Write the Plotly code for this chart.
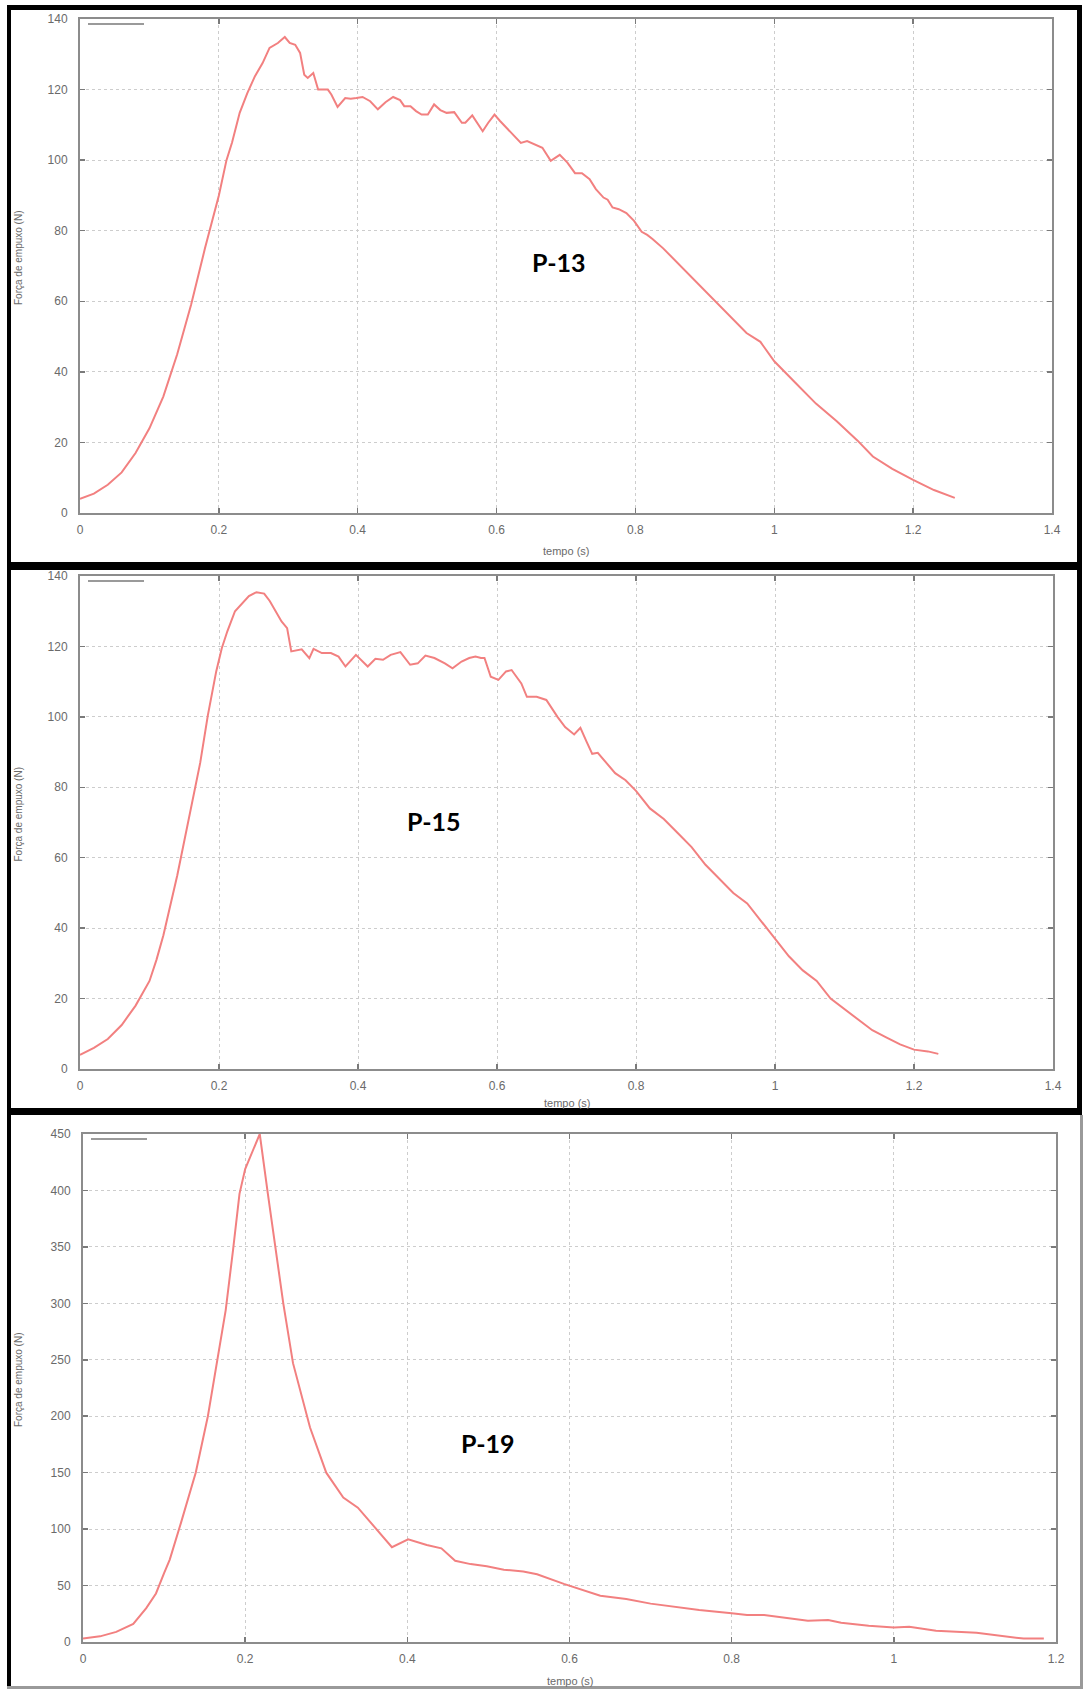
import plotly.graph_objects as go

W, H = 1083, 1689

# ---------------- data ----------------
t_p13 = [0, 0.02, 0.04, 0.06, 0.08, 0.1, 0.12, 0.14, 0.16, 0.18, 0.2, 0.211, 0.219, 0.230, 0.241,
         0.252, 0.263, 0.273, 0.285, 0.295, 0.302, 0.310, 0.317, 0.323, 0.328, 0.336, 0.343, 0.357,
         0.362, 0.371, 0.382, 0.390, 0.398, 0.407, 0.418, 0.429, 0.440, 0.451, 0.461, 0.467, 0.476,
         0.484, 0.492, 0.501, 0.510, 0.519, 0.528, 0.539, 0.550, 0.555, 0.565, 0.572, 0.580, 0.588,
         0.597, 0.605, 0.616, 0.627, 0.635, 0.644, 0.655, 0.666, 0.678, 0.691, 0.702, 0.713, 0.723,
         0.734, 0.743, 0.754, 0.760, 0.767, 0.776, 0.787, 0.798, 0.809, 0.817, 0.825, 0.84, 0.86,
         0.88, 0.9, 0.92, 0.94, 0.96, 0.98, 1.0, 1.03, 1.06, 1.09, 1.12, 1.142, 1.17, 1.2, 1.23, 1.26]
f_p13 = [4, 5.5, 8, 11.5, 17, 24, 33, 45, 59, 75, 90, 100, 105, 113.4, 119,
         123.8, 127.5, 131.8, 133.2, 134.9, 133.2, 132.7, 130.4, 124.2, 123.3, 124.7, 120, 120,
         118.6, 115.1, 117.6, 117.4, 117.6, 117.9, 116.7, 114.4, 116.4, 117.9, 117, 115.3, 115.3,
         113.9, 112.9, 112.9, 115.8, 114.2, 113.4, 113.6, 110.6, 110.6, 112.7, 110.6, 108.2, 110.6,
         112.9, 111.1, 108.9, 106.4, 104.9, 105.4, 104.5, 103.5, 99.8, 101.5, 99.3, 96.3, 96.3,
         94.6, 91.8, 89.4, 88.8, 86.6, 86.1, 85, 82.8, 79.7, 78.8, 77.6, 75, 71,
         67, 63, 59, 55, 51, 48.5, 43, 37, 31, 26, 20.5, 16, 12.5, 9.4, 6.5, 4.3]

t_p15 = [0, 0.02, 0.04, 0.06, 0.08, 0.1, 0.11, 0.12, 0.14, 0.16, 0.173, 0.184, 0.196, 0.204, 0.212,
         0.223, 0.234, 0.243, 0.254, 0.265, 0.273, 0.281, 0.290, 0.298, 0.304, 0.319, 0.330, 0.336,
         0.348, 0.361, 0.372, 0.382, 0.397, 0.414, 0.425, 0.436, 0.447, 0.461, 0.475, 0.486, 0.497,
         0.510, 0.525, 0.536, 0.549, 0.560, 0.569, 0.577, 0.582, 0.591, 0.602, 0.613, 0.621, 0.635,
         0.643, 0.657, 0.671, 0.687, 0.698, 0.711, 0.720, 0.729, 0.737, 0.745, 0.756, 0.77, 0.785,
         0.8, 0.82, 0.84, 0.86, 0.88, 0.9, 0.92, 0.94, 0.96, 0.98, 1.0, 1.02, 1.04, 1.06, 1.08, 1.1,
         1.12, 1.14, 1.16, 1.18, 1.2, 1.22, 1.235]
f_p15 = [4, 6, 8.5, 12.5, 18, 25, 31, 38, 55, 74, 87, 100.5, 112.9, 119.5, 124.3,
         130, 132.4, 134.3, 135.4, 135, 132.9, 130, 127.1, 125.2, 118.6, 119.2, 116.7, 119.3,
         118.1, 118.1, 117.1, 114.3, 117.6, 114.3, 116.5, 116.2, 117.6, 118.4, 114.8, 115.2, 117.4,
         116.7, 115.2, 113.8, 115.7, 116.7, 117.1, 116.7, 116.7, 111.4, 110.5, 112.9, 113.3, 109.5,
         105.7, 105.7, 104.8, 100, 97.1, 95, 96.9, 92.9, 89.5, 89.8, 87.1, 84, 82,
         79, 74, 71, 67, 63, 58, 54, 50, 47, 42, 37, 32, 28, 25, 20, 17,
         14, 11, 9, 7, 5.5, 5, 4.3]

t_p19 = [0, 0.021, 0.041, 0.062, 0.078, 0.090, 0.1, 0.107, 0.121, 0.139, 0.154, 0.166, 0.176,
         0.185, 0.193, 0.2, 0.207, 0.218, 0.228, 0.238, 0.247, 0.259, 0.280, 0.300, 0.321, 0.339,
         0.362, 0.381, 0.401, 0.424, 0.442, 0.459, 0.478, 0.498, 0.519, 0.543, 0.560, 0.593, 0.638,
         0.67, 0.70, 0.73, 0.76, 0.8, 0.819, 0.840, 0.865, 0.894, 0.919, 0.935, 0.969, 1.0, 1.019,
         1.052, 1.102, 1.135, 1.160, 1.185]
f_p19 = [3, 5, 9, 16, 30, 43, 61, 73, 106, 150, 200, 250, 294,
         347, 397, 419, 431, 450, 397, 347, 300, 247, 190, 150, 128, 119,
         100, 84, 91, 86, 83, 72, 69, 67, 64, 62.5, 60, 51.5, 41,
         38, 34, 31, 28.4, 25.4, 24, 24, 21.9, 18.9, 19.5, 17, 14.4, 12.9, 13.5,
         9.9, 8.1, 5.1, 3, 3]

panel_names = ["P-13", "P-15", "P-19"]
label_pos = [(0.69, 71), (0.51, 70.5), (0.50, 176)]
x_ranges = [(0, 1.4), (0, 1.4), (0, 1.2)]
y_ranges = [(0, 140), (0, 140), (0, 450)]
y_dticks = [20, 20, 50]
x_title = "tempo (s)"
y_title = "Força de empuxo (N)"

# ---------------- layout geometry (pixels) ----------------
plot_boxes = [  # left, right, top, bottom
    (80, 1052, 19, 513),
    (80, 1053, 576, 1069),
    (83, 1056, 1134, 1642),
]


def px(x):
    return x / W


def py(y):
    return 1 - y / H


LINE_COLOR = "rgb(242,128,128)"

fig = go.Figure()
series = [(t_p13, f_p13), (t_p15, f_p15), (t_p19, f_p19)]
for i, (tx, fy) in enumerate(series):
    sfx = "" if i == 0 else str(i + 1)
    fig.add_trace(go.Scatter(x=tx, y=fy, mode="lines",
                             line=dict(color=LINE_COLOR, width=2),
                             xaxis="x" + sfx, yaxis="y" + sfx,
                             hoverinfo="skip", showlegend=False))

tickfont = dict(family="Liberation Sans, Arial, sans-serif", size=12, color="#6a6a6a")
common = dict(showline=True, linecolor="#8c8c8c", linewidth=2, mirror="ticks",
              ticks="inside", ticklen=5, tickwidth=1.5, tickcolor="#7a7a7a",
              showgrid=True, gridcolor="#cdcdcd", griddash="dot", gridwidth=1,
              zeroline=False, tickfont=tickfont, fixedrange=True, automargin=False)

layout = dict(template="none", width=W, height=H,
              margin=dict(l=0, r=0, t=0, b=0, pad=0, autoexpand=False), autosize=False,
              paper_bgcolor="white", plot_bgcolor="white", showlegend=False)

annotations = []
shapes = []
for i, (l, r, t, b) in enumerate(plot_boxes):
    sfx = "" if i == 0 else str(i + 1)
    layout["xaxis" + sfx] = dict(common, domain=[px(l), px(r)], range=list(x_ranges[i]),
                                 dtick=0.2, tick0=0, anchor="y" + sfx, ticklabelstandoff=5)
    layout["yaxis" + sfx] = dict(common, domain=[py(b), py(t)], range=list(y_ranges[i]),
                                 dtick=y_dticks[i], tick0=0, anchor="x" + sfx, ticklabelstandoff=8)
    # axis titles
    annotations.append(dict(text=y_title, x=px(18), y=py((t + b) / 2 - 8), xref="paper", yref="paper",
                            textangle=-90, showarrow=False, xanchor="center", yanchor="middle",
                            font=dict(family="Liberation Sans, Arial, sans-serif", size=10, color="#6a6a6a")))
    title_y = [551, 1103, 1681][i]
    annotations.append(dict(text=x_title, x=px((l + r) / 2), y=py(title_y), xref="paper", yref="paper",
                            showarrow=False, xanchor="center", yanchor="middle",
                            font=dict(family="Liberation Sans, Arial, sans-serif", size=11, color="#6a6a6a")))
    # panel label
    annotations.append(dict(text="<b>%s</b>" % panel_names[i], x=label_pos[i][0], y=label_pos[i][1],
                            xref="x" + sfx, yref="y" + sfx, showarrow=False,
                            font=dict(family="Lato, Open Sans, sans-serif", size=25, color="black")))
    # gnuplot empty key sample (grey line, top-left)
    shapes.append(dict(type="line", xref="paper", yref="paper",
                       x0=px(l + 8), x1=px(l + 64), y0=py(t + 5), y1=py(t + 5),
                       line=dict(color="#9a9a9a", width=2)))


# black frames of the composite image
def rect(x0, y0, x1, y1, color="black"):
    return dict(type="rect", xref="paper", yref="paper", x0=px(x0), x1=px(x1), y0=py(y1), y1=py(y0),
                fillcolor=color, line=dict(width=0), layer="above")


shapes += [
    rect(7, 5, 1082, 10),        # top border
    rect(7, 5, 11, 1689),        # left border
    rect(1077, 5, 1082, 1115),   # right border panels 1-2
    rect(7, 562, 1082, 570),     # band between panel 1 and 2
    rect(7, 1108, 1082, 1115),   # band between panel 2 and 3
    rect(1080, 1115, 1083, 1689, "#9a9a9a"),  # thin right border panel 3
    rect(7, 1686, 1083, 1689, "#9a9a9a"),     # thin bottom border panel 3
]

layout["annotations"] = annotations
layout["shapes"] = shapes
fig.update_layout(**layout)

post = (
    "var s=document.createElement('style');"
    "s.innerHTML='html,body{margin:0!important;padding:0!important;overflow:hidden!important;background:#ffffff!important;}';"
    "document.head.appendChild(s);"
    "var d=document.getElementsByClassName('plotly-graph-div');"
    "for(var k=0;k<d.length;k++){var p=d[k].parentElement;"
    "p.style.position='absolute';p.style.left='0px';p.style.top='0px';p.style.margin='0';}"
    "window.scrollTo(0,0);"
)

fig.write_html("out.html", config={"displayModeBar": False, "staticPlot": True},
               post_script=post)
